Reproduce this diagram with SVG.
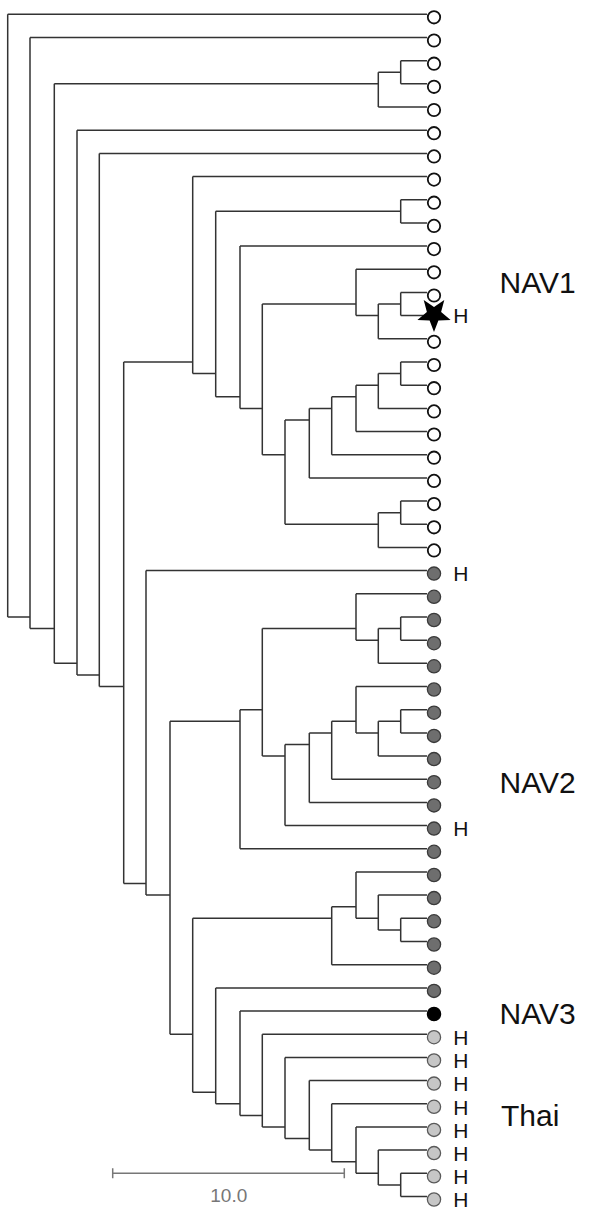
<svg xmlns="http://www.w3.org/2000/svg" width="600" height="1218" viewBox="0 0 600 1218">
<style>
.br{fill:none;stroke:#333;stroke-width:1.5}
.w{fill:#fff;stroke:#111;stroke-width:1.8}
.g{fill:#6e6e6e;stroke:#3a3a3a;stroke-width:1.3}
.k{fill:#000;stroke:#000;stroke-width:1.3}
.l{fill:#c6c6c6;stroke:#5a5a5a;stroke-width:1.3}
.h{font-family:"Liberation Sans",Arial,sans-serif;font-size:21px;fill:#111}
.lab{font-family:"Liberation Sans",Arial,sans-serif;font-size:30px;fill:#111}
.sc{fill:none;stroke:#777;stroke-width:1.5}
.sct{font-family:"Liberation Sans",Arial,sans-serif;font-size:19px;fill:#777}
</style>
<rect width="600" height="1218" fill="#fff"/>
<g id="connectors" class="br">
<path d="M7.7 14.3V617M7.7 14.3H427M7.7 617H30"/>
<path d="M30 37.5V628.6M30 37.5H427M30 628.6H54.3"/>
<path d="M54.3 83.8V663.3M54.3 83.8H378.3M54.3 663.3H77"/>
<path d="M378.3 72.25V107M378.3 72.25H400.7M378.3 107H427"/>
<path d="M400.7 60.7V83.8M400.7 60.7H427M400.7 83.8H427"/>
<path d="M77 130.2V674.9M77 130.2H427M77 674.9H99.3"/>
<path d="M99.3 153.4V686.5M99.3 153.4H427M99.3 686.5H123.7"/>
<path d="M123.7 362V883.5M123.7 362H192.7M123.7 883.5H146"/>
<path d="M192.7 176.6V373.6M192.7 176.6H427M192.7 373.6H215.7"/>
<path d="M215.7 211.3V396.8M215.7 211.3H400.7M215.7 396.8H240"/>
<path d="M400.7 199.7V222.9M400.7 199.7H427M400.7 222.9H427"/>
<path d="M240 246.1V408.4M240 246.1H427M240 408.4H262.3"/>
<path d="M262.3 304.05V454.7M262.3 304.05H356M262.3 454.7H285"/>
<path d="M356 269.3V315.6M356 269.3H427M356 315.6H378.3"/>
<path d="M378.3 304.05V338.8M378.3 304.05H400.7M378.3 338.8H427"/>
<path d="M400.7 292.5V315.6M400.7 292.5H427M400.7 315.6H427"/>
<path d="M285 420V524.3M285 420H309.3M285 524.3H378.3"/>
<path d="M309.3 408.4V477.9M309.3 408.4H331.7M309.3 477.9H427"/>
<path d="M331.7 396.8V454.7M331.7 396.8H356M331.7 454.7H427"/>
<path d="M356 385.2V431.5M356 385.2H378.3M356 431.5H427"/>
<path d="M378.3 373.6V408.4M378.3 373.6H400.7M378.3 408.4H427"/>
<path d="M400.7 362V385.2M400.7 362H427M400.7 385.2H427"/>
<path d="M378.3 512.7V547.4M378.3 512.7H400.7M378.3 547.4H427"/>
<path d="M400.7 501.1V524.3M400.7 501.1H427M400.7 524.3H427"/>
<path d="M146 570.6V895.1M146 570.6H427M146 895.1H170"/>
<path d="M170 721.3V1034.2M170 721.3H240M170 1034.2H192.7"/>
<path d="M240 709.7V848.8M240 709.7H262.3M240 848.8H427"/>
<path d="M262.3 628.6V756.1M262.3 628.6H356M262.3 756.1H285"/>
<path d="M356 593.8V640.2M356 593.8H427M356 640.2H378.3"/>
<path d="M378.3 628.6V663.3M378.3 628.6H400.7M378.3 663.3H427"/>
<path d="M400.7 617V640.2M400.7 617H427M400.7 640.2H427"/>
<path d="M285 744.5V825.6M285 744.5H309.3M285 825.6H427"/>
<path d="M309.3 732.9V802.4M309.3 732.9H331.7M309.3 802.4H427"/>
<path d="M331.7 721.3V779.2M331.7 721.3H356M331.7 779.2H427"/>
<path d="M356 686.5V732.9M356 686.5H427M356 732.9H378.3"/>
<path d="M378.3 721.3V756.1M378.3 721.3H400.7M378.3 756.1H427"/>
<path d="M400.7 709.7V732.9M400.7 709.7H427M400.7 732.9H427"/>
<path d="M192.7 918.3V1092.2M192.7 918.3H331.7M192.7 1092.2H215.7"/>
<path d="M331.7 906.7V964.7M331.7 906.7H356M331.7 964.7H427"/>
<path d="M356 872V918.3M356 872H427M356 918.3H378.3"/>
<path d="M378.3 895.1V929.9M378.3 895.1H427M378.3 929.9H400.7"/>
<path d="M400.7 918.3V941.5M400.7 918.3H427M400.7 941.5H427"/>
<path d="M215.7 987.9V1103.8M215.7 987.9H427M215.7 1103.8H240"/>
<path d="M240 1011V1115.4M240 1011H427M240 1115.4H262.3"/>
<path d="M262.3 1034.2V1126.9M262.3 1034.2H427M262.3 1126.9H285"/>
<path d="M285 1057.4V1138.5M285 1057.4H427M285 1138.5H309.3"/>
<path d="M309.3 1080.6V1150.1M309.3 1080.6H427M309.3 1150.1H331.7"/>
<path d="M331.7 1103.8V1161.7M331.7 1103.8H427M331.7 1161.7H356"/>
<path d="M356 1126.9V1173.3M356 1126.9H427M356 1173.3H378.3"/>
<path d="M378.3 1150.1V1184.9M378.3 1150.1H427M378.3 1184.9H400.7"/>
<path d="M400.7 1173.3V1196.5M400.7 1173.3H427M400.7 1196.5H427"/>
</g>
<g id="leaves">
<g id="leaf1"><circle class="w" cx="434" cy="17.3" r="6.2"/></g>
<g id="leaf2"><circle class="w" cx="434" cy="40.5" r="6.2"/></g>
<g id="leaf3"><circle class="w" cx="434" cy="63.7" r="6.2"/></g>
<g id="leaf4"><circle class="w" cx="434" cy="86.8" r="6.2"/></g>
<g id="leaf5"><circle class="w" cx="434" cy="110" r="6.2"/></g>
<g id="leaf6"><circle class="w" cx="434" cy="133.2" r="6.2"/></g>
<g id="leaf7"><circle class="w" cx="434" cy="156.4" r="6.2"/></g>
<g id="leaf8"><circle class="w" cx="434" cy="179.6" r="6.2"/></g>
<g id="leaf9"><circle class="w" cx="434" cy="202.7" r="6.2"/></g>
<g id="leaf10"><circle class="w" cx="434" cy="225.9" r="6.2"/></g>
<g id="leaf11"><circle class="w" cx="434" cy="249.1" r="6.2"/></g>
<g id="leaf12"><circle class="w" cx="434" cy="272.3" r="6.2"/></g>
<g id="leaf13"><circle class="w" cx="434" cy="295.5" r="6.2"/></g>
<g id="leaf14"><polygon fill="#000" points="434,332 429.6,320.6 417.4,319.9 426.9,312.1 423.7,300.1 434,306.9 444.3,300.1 441.1,312.1 450.6,319.9 438.4,320.6"/><text class="h" x="453.3" y="322.8">H</text></g>
<g id="leaf15"><circle class="w" cx="434" cy="341.8" r="6.2"/></g>
<g id="leaf16"><circle class="w" cx="434" cy="365" r="6.2"/></g>
<g id="leaf17"><circle class="w" cx="434" cy="388.2" r="6.2"/></g>
<g id="leaf18"><circle class="w" cx="434" cy="411.4" r="6.2"/></g>
<g id="leaf19"><circle class="w" cx="434" cy="434.5" r="6.2"/></g>
<g id="leaf20"><circle class="w" cx="434" cy="457.7" r="6.2"/></g>
<g id="leaf21"><circle class="w" cx="434" cy="480.9" r="6.2"/></g>
<g id="leaf22"><circle class="w" cx="434" cy="504.1" r="6.2"/></g>
<g id="leaf23"><circle class="w" cx="434" cy="527.3" r="6.2"/></g>
<g id="leaf24"><circle class="w" cx="434" cy="550.4" r="6.2"/></g>
<g id="leaf25"><circle class="g" cx="434" cy="573.6" r="6.6"/><text class="h" x="453.3" y="581.4">H</text></g>
<g id="leaf26"><circle class="g" cx="434" cy="596.8" r="6.6"/></g>
<g id="leaf27"><circle class="g" cx="434" cy="620" r="6.6"/></g>
<g id="leaf28"><circle class="g" cx="434" cy="643.2" r="6.6"/></g>
<g id="leaf29"><circle class="g" cx="434" cy="666.3" r="6.6"/></g>
<g id="leaf30"><circle class="g" cx="434" cy="689.5" r="6.6"/></g>
<g id="leaf31"><circle class="g" cx="434" cy="712.7" r="6.6"/></g>
<g id="leaf32"><circle class="g" cx="434" cy="735.9" r="6.6"/></g>
<g id="leaf33"><circle class="g" cx="434" cy="759.1" r="6.6"/></g>
<g id="leaf34"><circle class="g" cx="434" cy="782.2" r="6.6"/></g>
<g id="leaf35"><circle class="g" cx="434" cy="805.4" r="6.6"/></g>
<g id="leaf36"><circle class="g" cx="434" cy="828.6" r="6.6"/><text class="h" x="453.3" y="836.4">H</text></g>
<g id="leaf37"><circle class="g" cx="434" cy="851.8" r="6.6"/></g>
<g id="leaf38"><circle class="g" cx="434" cy="875" r="6.6"/></g>
<g id="leaf39"><circle class="g" cx="434" cy="898.1" r="6.6"/></g>
<g id="leaf40"><circle class="g" cx="434" cy="921.3" r="6.6"/></g>
<g id="leaf41"><circle class="g" cx="434" cy="944.5" r="6.6"/></g>
<g id="leaf42"><circle class="g" cx="434" cy="967.7" r="6.6"/></g>
<g id="leaf43"><circle class="g" cx="434" cy="990.9" r="6.6"/></g>
<g id="leaf44"><circle class="k" cx="434" cy="1014" r="6.6"/></g>
<g id="leaf45"><circle class="l" cx="434" cy="1037.2" r="6.6"/><text class="h" x="453.3" y="1045">H</text></g>
<g id="leaf46"><circle class="l" cx="434" cy="1060.4" r="6.6"/><text class="h" x="453.3" y="1068.2">H</text></g>
<g id="leaf47"><circle class="l" cx="434" cy="1083.6" r="6.6"/><text class="h" x="453.3" y="1091.4">H</text></g>
<g id="leaf48"><circle class="l" cx="434" cy="1106.8" r="6.6"/><text class="h" x="453.3" y="1114.6">H</text></g>
<g id="leaf49"><circle class="l" cx="434" cy="1129.9" r="6.6"/><text class="h" x="453.3" y="1137.7">H</text></g>
<g id="leaf50"><circle class="l" cx="434" cy="1153.1" r="6.6"/><text class="h" x="453.3" y="1160.9">H</text></g>
<g id="leaf51"><circle class="l" cx="434" cy="1176.3" r="6.6"/><text class="h" x="453.3" y="1184.1">H</text></g>
<g id="leaf52"><circle class="l" cx="434" cy="1199.5" r="6.6"/><text class="h" x="453.3" y="1207.3">H</text></g>
</g>
<g id="labels">
<g id="label-nav1"><text class="lab" x="499.5" y="293.3">NAV1</text></g>
<g id="label-nav2"><text class="lab" x="499.5" y="793.3">NAV2</text></g>
<g id="label-nav3"><text class="lab" x="499.5" y="1024">NAV3</text></g>
<g id="label-thai"><text class="lab" x="501" y="1126">Thai</text></g>
</g>
<g id="scale-bar">
<path class="sc" d="M112.7 1173.3H344.3M112.7 1168.3V1178.3M344.3 1168.3V1178.3"/>
<text class="sct" x="228.8" y="1201.7" text-anchor="middle">10.0</text>
</g>
</svg>
